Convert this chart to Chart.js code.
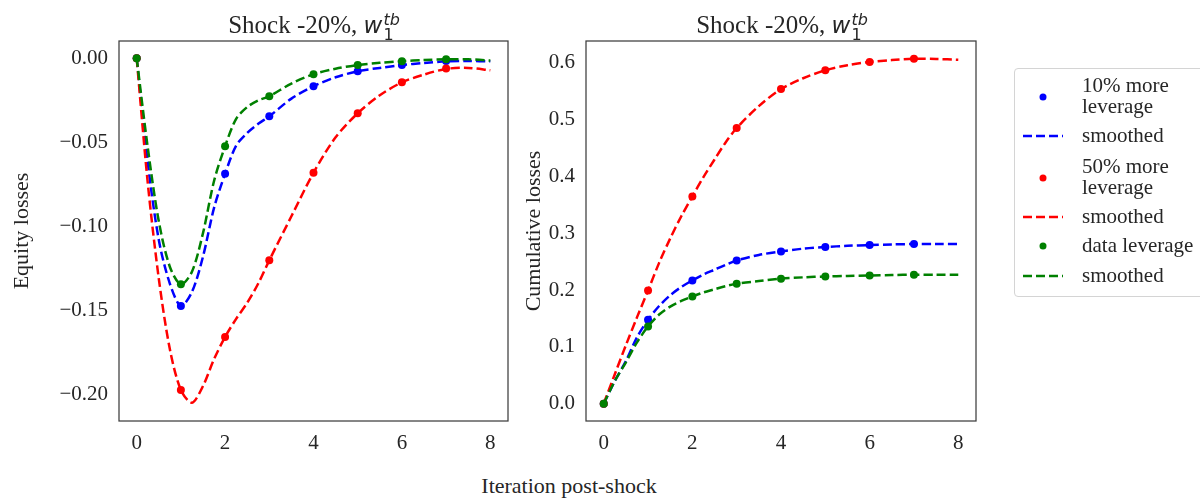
<!DOCTYPE html>
<html>
<head>
<meta charset="utf-8">
<script src="https://cdn.jsdelivr.net/npm/chart.js@4.4.1/dist/chart.umd.min.js"></script>
<style>
  body { margin: 0; background: #fff; }
  #wrap { position: relative; width: 1200px; height: 502px; overflow: hidden; font-family: "Liberation Serif", serif; color: #262626; }
  canvas { position: absolute; top: 0; }
  .txt { position: absolute; font-size: 21px; line-height: 21px; white-space: nowrap; }
  .title { position: absolute; top: 12px; font-size: 25px; line-height: 25px; text-align: center; white-space: nowrap; }
  .math { font-family: "DejaVu Sans", sans-serif; font-style: italic; font-size: 23px; }
  .ss { display: inline-block; vertical-align: -0.45em; font-size: 16px; line-height: 15px; margin-left: 1px; text-align: left; }
  .ss span { display: block; }
  .ss .sub { font-style: normal; }
  .ylab { position: absolute; width: 300px; height: 24px; line-height: 24px; font-size: 22px; text-align: center; transform: rotate(-90deg); white-space: nowrap; }
  #legend { position: absolute; left: 1014px; top: 68px; width: 190px; height: 227px; border: 1px solid #d4d4d4; border-radius: 4px; background: #fff; }
</style>
</head>
<body>
<div id="wrap">
  <canvas id="left" width="520" height="460" style="left:0"></canvas>
  <canvas id="right" width="470" height="460" style="left:520px"></canvas>
  <div class="title" style="left:114px; width:400px">Shock -20%, <span class="math">w<span class="ss"><span>tb</span><span class="sub">1</span></span></span></div>
  <div class="title" style="left:582px; width:400px">Shock -20%, <span class="math">w<span class="ss"><span>tb</span><span class="sub">1</span></span></span></div>
  <div class="ylab" style="left:-129px; top:219px">Equity losses</div>
  <div class="ylab" style="left:383px; top:219px">Cumulative losses</div>
  <div class="txt" style="left:469px; top:475px; width:200px; text-align:center; font-size:22px">Iteration post-shock</div>
  <div id="legend"></div>
  <svg id="legsym" width="1200" height="502" style="position:absolute;left:0;top:0"></svg>
</div>
<script>
// data points (iterations 0..7)
const iterations = [0, 1, 2, 3, 4, 5, 6, 7];
const eqLev10 = [0, -0.1474, -0.0687, -0.0345, -0.0166, -0.0077, -0.0040, -0.0016];
const eqLev50 = [0, -0.1974, -0.1658, -0.1202, -0.0681, -0.0327, -0.0143, -0.0060];
const eqLevData = [0, -0.1345, -0.0523, -0.0226, -0.0095, -0.0040, -0.0017, -0.0006];
const cumLev10 = [0, 0.1479, 0.2171, 0.2523, 0.2681, 0.2759, 0.2794, 0.2811];
const cumLev50 = [0, 0.1995, 0.3650, 0.4854, 0.5540, 0.5870, 0.6016, 0.6074];
const cumLevData = [0, 0.1361, 0.1889, 0.2113, 0.2201, 0.2241, 0.2259, 0.2271];

// smoothed curves
const smoothX = [0, 0.25, 0.5, 0.75, 1, 1.25, 1.5, 1.75, 2, 2.25, 2.5, 2.75, 3, 3.5, 4, 4.5, 5, 5.5, 6, 6.5, 7, 7.5, 8];
const eqSmooth10 = [0, -0.062, -0.108, -0.134, -0.1474, -0.139, -0.118, -0.089, -0.0687, -0.052, -0.0444, -0.039, -0.0345, -0.024, -0.0166, -0.0113, -0.0077, -0.0057, -0.0040, -0.0028, -0.0018, -0.0016, -0.0018];
const eqSmooth50 = [0, -0.074, -0.131, -0.173, -0.1974, -0.2049, -0.195, -0.179, -0.1658, -0.155, -0.1455, -0.134, -0.1202, -0.094, -0.0681, -0.047, -0.0327, -0.022, -0.0143, -0.0097, -0.0063, -0.0057, -0.0071];
const eqSmoothData = [0, -0.053, -0.097, -0.124, -0.1345, -0.127, -0.104, -0.073, -0.0523, -0.036, -0.029, -0.025, -0.0226, -0.015, -0.0095, -0.0062, -0.0040, -0.0027, -0.0017, -0.0010, -0.0006, -0.0006, -0.0013];
const cumSmooth10 = [0, 0.040, 0.075, 0.117, 0.1479, 0.172, 0.191, 0.2055, 0.2171, 0.2275, 0.236, 0.2445, 0.2523, 0.262, 0.2681, 0.273, 0.2759, 0.278, 0.2794, 0.2805, 0.2811, 0.2812, 0.2811];
const cumSmooth50 = [0, 0.052, 0.103, 0.152, 0.1995, 0.248, 0.291, 0.330, 0.365, 0.399, 0.430, 0.460, 0.4854, 0.524, 0.554, 0.573, 0.587, 0.596, 0.6016, 0.605, 0.6074, 0.607, 0.6056];
const cumSmoothData = [0, 0.040, 0.073, 0.108, 0.1361, 0.157, 0.171, 0.181, 0.1889, 0.196, 0.2015, 0.207, 0.2113, 0.216, 0.2201, 0.2225, 0.2241, 0.225, 0.2259, 0.2266, 0.2271, 0.2272, 0.2271];

const xTicks = [0, 2, 4, 6, 8];
const eqTicks = [-0.20, -0.15, -0.10, -0.05, 0];
const cumTicks = [0, 0.1, 0.2, 0.3, 0.4, 0.5, 0.6];

const colors = ['#0000ff', '#ff0000', '#008000'];
const legendLabels = [['10% more', 'leverage'], ['smoothed'], ['50% more', 'leverage'], ['smoothed'], ['data leverage'], ['smoothed']];

const font = { family: 'Liberation Serif', size: 21 };

// box round the plot area
const frame = {
  id: 'frame',
  afterDraw(chart) {
    const { ctx, chartArea: a } = chart;
    ctx.save();
    ctx.strokeStyle = '#3d3d3d';
    ctx.lineWidth = 1.25;
    ctx.strokeRect(a.left, a.top, a.right - a.left, a.bottom - a.top);
    ctx.restore();
  }
};

function pts(xs, ys) {
  return xs.map((x, i) => ({ x: x, y: ys[i] }));
}

function panel(id, pointSets, smoothSets, yMin, yMax, yTicks, fmt, yWidth, padRight) {
  const datasets = [];
  pointSets.forEach((ys, i) => {
    datasets.push({ data: pts(iterations, ys), showLine: false, pointRadius: 4, pointHoverRadius: 4,
      backgroundColor: colors[i], borderWidth: 0, order: 10 - 2 * i });
    datasets.push({ data: pts(smoothX, smoothSets[i]), showLine: true, pointRadius: 0, borderColor: colors[i],
      borderWidth: 2.5, borderDash: [9, 4], tension: 0.3, fill: false, order: 9 - 2 * i });
  });
  new Chart(document.getElementById(id), {
    type: 'scatter',
    data: { datasets: datasets },
    options: {
      responsive: false,
      animation: false,
      layout: { padding: { top: 41, right: padRight, left: 0, bottom: 0 } },
      plugins: { legend: { display: false }, tooltip: { enabled: false } },
      scales: {
        x: {
          type: 'linear', min: -0.4, max: 8.4,
          grid: { display: false, drawTicks: false }, border: { display: false },
          afterBuildTicks: s => { s.ticks = xTicks.map(v => ({ value: v })); },
          afterFit: s => { s.height = 39; },
          ticks: { font: font, color: '#262626', padding: 10, callback: v => String(v) }
        },
        y: {
          type: 'linear', min: yMin, max: yMax,
          grid: { display: false, drawTicks: false }, border: { display: false },
          afterBuildTicks: s => { s.ticks = yTicks.map(v => ({ value: v })); },
          afterFit: s => { s.width = yWidth; },
          ticks: { font: font, color: '#262626', padding: 11, callback: fmt }
        }
      }
    },
    plugins: [frame]
  });
}

panel('left', [eqLev10, eqLev50, eqLevData], [eqSmooth10, eqSmooth50, eqSmoothData],
  -0.2158, 0.0103, eqTicks, v => v.toFixed(2).replace('-', '\u2212'), 119, 12);
panel('right', [cumLev10, cumLev50, cumLevData], [cumSmooth10, cumSmooth50, cumSmoothData],
  -0.0304, 0.6386, cumTicks, v => v.toFixed(1), 66, 14);

// legend
const rowY = [97, 136, 178, 217, 246, 276];
const wrap = document.getElementById('wrap');
const svg = document.getElementById('legsym');
const ns = 'http://www.w3.org/2000/svg';
legendLabels.forEach((lines, i) => {
  const c = colors[Math.floor(i / 2)];
  let el;
  if (i % 2 === 0) {
    el = document.createElementNS(ns, 'circle');
    el.setAttribute('cx', 1043); el.setAttribute('cy', rowY[i]); el.setAttribute('r', 3.5);
    el.setAttribute('fill', c);
  } else {
    el = document.createElementNS(ns, 'line');
    el.setAttribute('x1', 1023); el.setAttribute('x2', 1063);
    el.setAttribute('y1', rowY[i]); el.setAttribute('y2', rowY[i]);
    el.setAttribute('stroke', c); el.setAttribute('stroke-width', 2.5);
    el.setAttribute('stroke-dasharray', '9 4');
  }
  svg.appendChild(el);
  lines.forEach((t, k) => {
    const d = document.createElement('div');
    d.className = 'txt';
    d.textContent = t;
    const cy = rowY[i] + (k - (lines.length - 1) / 2) * 21.7;
    d.style.left = '1082px';
    d.style.top = (cy - 11.5) + 'px';
    wrap.appendChild(d);
  });
});
</script>
</body>
</html>
